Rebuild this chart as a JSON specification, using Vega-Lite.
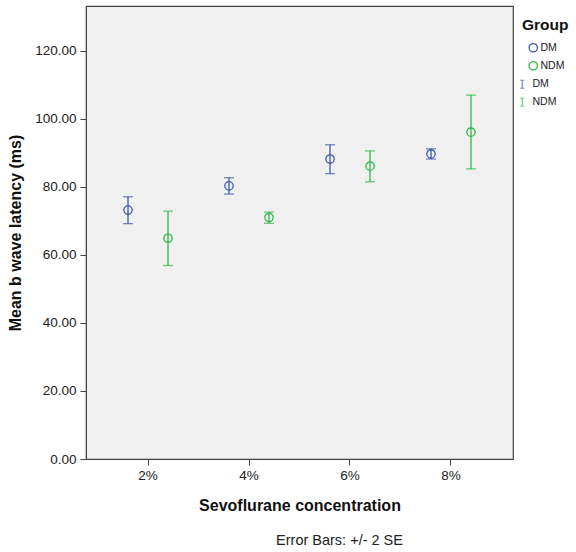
{
  "$schema": "https://vega.github.io/schema/vega-lite/v6.json",
  "autosize": "none",
  "width": 427,
  "height": 453,
  "padding": {"left": 86, "top": 6, "right": 63, "bottom": 93},
  "background": "white",
  "config": {
    "font": "Liberation Sans",
    "view": {"fill": "#F0F0F0", "stroke": "#444444", "strokeWidth": 1.2},
    "axis": {
      "grid": false,
      "domainColor": "#444444",
      "tickColor": "#444444",
      "labelColor": "#222222",
      "labelFontSize": 13.5,
      "titleFontSize": 16,
      "titleFontWeight": "bold",
      "titleColor": "#111111",
      "tickSize": 6,
      "labelPadding": 3
    }
  },
  "title": {
    "text": "Error Bars: +/- 2 SE",
    "orient": "bottom",
    "anchor": "middle",
    "dx": 40,
    "offset": 20,
    "fontSize": 14.5,
    "fontWeight": "normal",
    "color": "#222222"
  },
  "data": {
    "values": [
      {"conc": "2%", "Group": "DM", "mean": 73.2, "lo": 69.2, "hi": 77.1},
      {"conc": "2%", "Group": "NDM", "mean": 64.9, "lo": 56.9, "hi": 72.9},
      {"conc": "4%", "Group": "DM", "mean": 80.3, "lo": 77.9, "hi": 82.7},
      {"conc": "4%", "Group": "NDM", "mean": 71.0, "lo": 69.3, "hi": 72.6},
      {"conc": "6%", "Group": "DM", "mean": 88.2, "lo": 83.9, "hi": 92.4},
      {"conc": "6%", "Group": "NDM", "mean": 86.1, "lo": 81.5, "hi": 90.6},
      {"conc": "8%", "Group": "DM", "mean": 89.7, "lo": 88.2, "hi": 91.2},
      {"conc": "8%", "Group": "NDM", "mean": 96.1, "lo": 85.3, "hi": 107.0}
    ]
  },
  "encoding": {
    "x": {
      "field": "conc",
      "type": "ordinal",
      "sort": ["2%", "4%", "6%", "8%"],
      "scale": {"type": "band", "paddingInner": 0, "paddingOuter": 0.114},
      "axis": {"title": "Sevoflurane concentration", "labelAngle": 0, "titlePadding": 16, "labelPadding": 3}
    },
    "xOffset": {
      "field": "Group",
      "type": "nominal",
      "scale": {"type": "point", "padding": 0.7625}
    }
  },
  "layer": [
    {
      "mark": {"type": "point", "shape": "circle", "filled": false, "size": 70, "strokeWidth": 1.3, "opacity": 1},
      "encoding": {
        "y": {
          "field": "mean",
          "type": "quantitative",
          "scale": {"domain": [0, 133.2], "nice": false, "zero": true},
          "axis": {"title": "Mean b wave latency (ms)", "values": [0, 20, 40, 60, 80, 100, 120], "format": ".2f", "titlePadding": 11, "labelPadding": 4}
        },
        "color": {
          "field": "Group",
          "type": "nominal",
          "scale": {"domain": ["DM", "NDM"], "range": ["#3E58AC", "#2EB848"]},
          "legend": {
            "title": "Group",
            "orient": "none",
            "legendX": 436,
            "legendY": 12,
            "titleFontSize": 15.5,
            "titleFontWeight": "bold",
            "titleColor": "#111111",
            "titlePadding": 9,
            "labelFontSize": 10.5,
            "labelColor": "#222222",
            "labelOffset": 2,
            "symbolOffset": 6,
            "rowPadding": 3,
            "symbolSize": 70,
            "symbolStrokeWidth": 1.3
          }
        }
      }
    },
    {
      "layer": [
        {
          "mark": {"type": "rule", "strokeWidth": 1.3},
          "encoding": {
            "y": {"field": "lo", "type": "quantitative"},
            "y2": {"field": "hi"}
          }
        },
        {
          "mark": {"type": "tick", "size": 10, "thickness": 1.3},
          "encoding": {"y": {"field": "lo", "type": "quantitative"}}
        },
        {
          "mark": {"type": "tick", "size": 10, "thickness": 1.3},
          "encoding": {"y": {"field": "hi", "type": "quantitative"}}
        }
      ],
      "encoding": {
        "color": {
          "field": "Group",
          "type": "nominal",
          "scale": {"domain": ["DM", "NDM"], "range": ["#3E58AC", "#2EB848"]},
          "legend": {
            "title": null,
            "orient": "none",
            "legendX": 431,
            "legendY": 73,
            "labelFontSize": 10.5,
            "labelColor": "#222222",
            "labelOffset": 5,
            "rowPadding": 4,
            "symbolType": "M-0.5,-1H0.5M0,-1V1M-0.5,1H0.5",
            "symbolSize": 64,
            "symbolStrokeWidth": 1.2,
            "symbolFillColor": "transparent"
          }
        }
      }
    }
  ],
  "resolve": {"scale": {"color": "independent"}, "legend": {"color": "independent"}}
}
